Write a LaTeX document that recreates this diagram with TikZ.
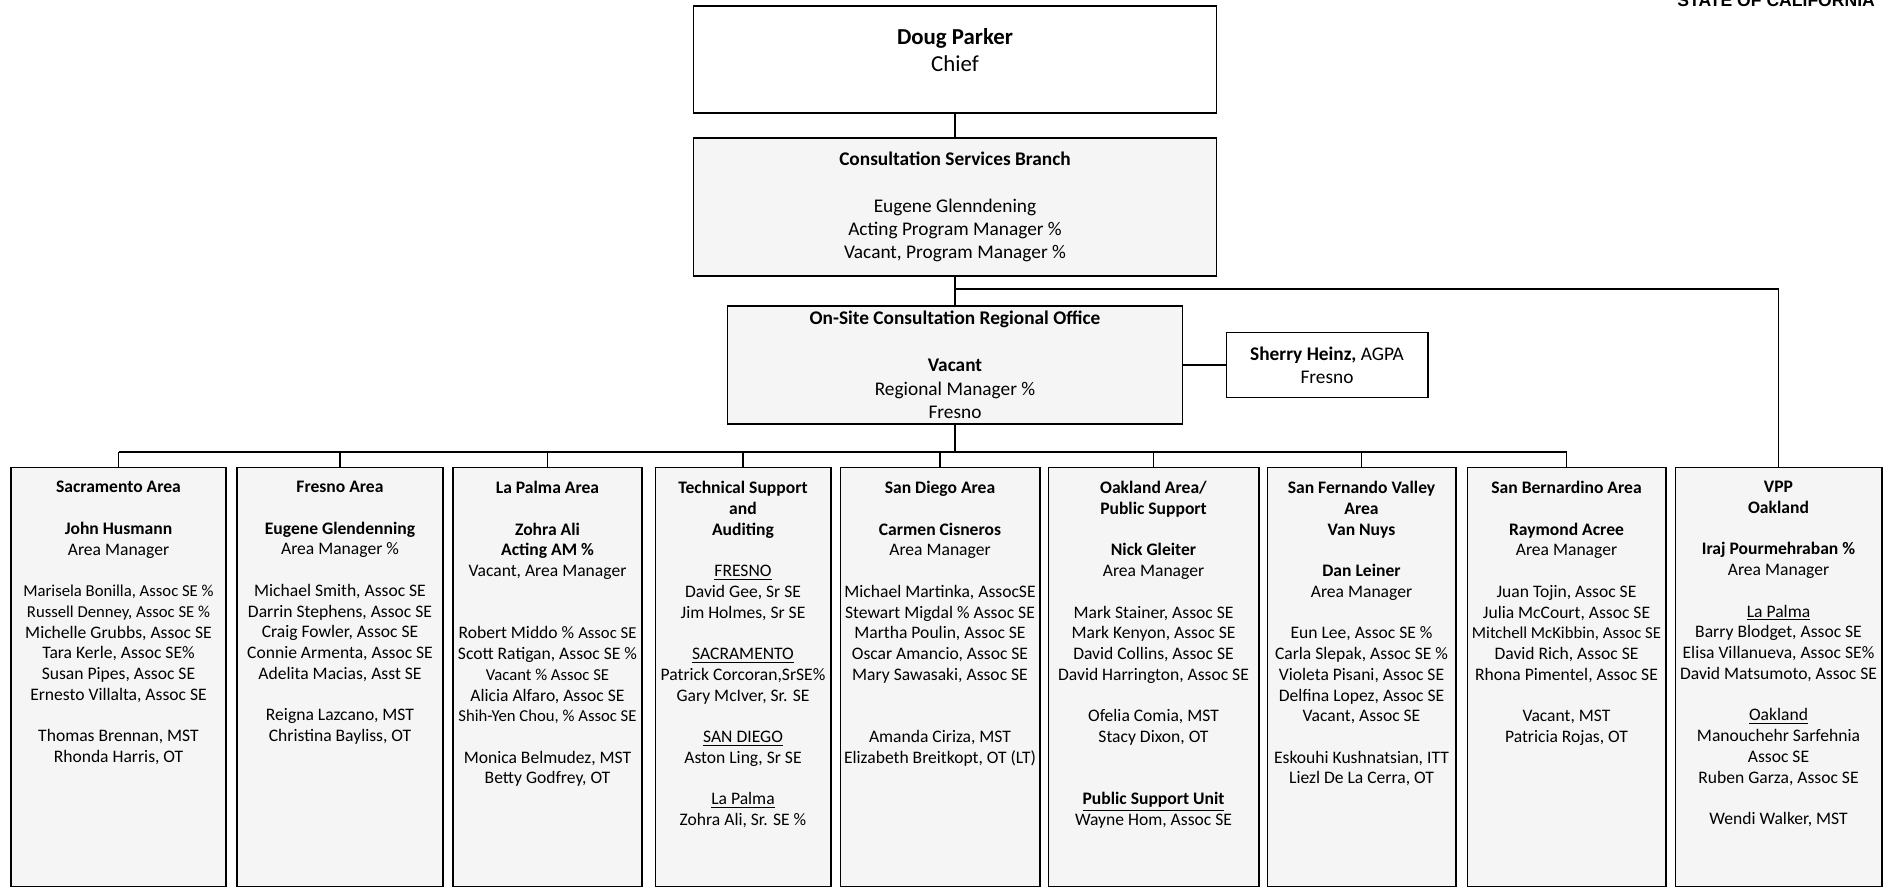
\documentclass[tikz,border=0pt]{standalone}
\usepackage{fontspec}
\setmainfont{Carlito}
\newfontfamily\statefont{Liberation Sans}
\usetikzlibrary{positioning}
\newcommand{\gapline}{\\[\baselineskip]}
\newcommand{\gaptwo}{\\[2\baselineskip]}
\newcommand{\tight}[1]{{\fontsize{9.5}{11.8}\selectfont #1}}

\begin{document}
\begin{tikzpicture}[x=0.02cm, y=-0.02cm,
  frame/.style={draw, line width=0.6pt, inner sep=0pt},
  areabox/.style={frame, fill=black!4, minimum height=8.4cm},
  areatext/.style={anchor=north, inner sep=0pt, align=center, font=\fontsize{10}{11.8}\selectfont},
  toptext/.style={inner sep=0pt, align=center, font=\fontsize{11}{13.3}\selectfont},
  link/.style={line width=0.9pt}]
\useasboundingbox (0,0) rectangle (1892,891);

\node[anchor=base west, inner sep=0pt, font=\statefont\bfseries\fontsize{10}{12}\selectfont] (state) at (1677,7) {STATE OF CALIFORNIA};

\node[frame, fill=white, minimum width=10.48cm, minimum height=2.14cm] (chief) at (955,59.5) {};
\node[inner sep=0pt, align=center, font=\fontsize{13}{15.5}\selectfont] (chieftext) at (955,50) {\textbf{Doug Parker}\\Chief};

\node[frame, fill=black!4, minimum width=10.48cm, minimum height=2.76cm] (branch) at (955,207) {};
\node[toptext] (branchtext) at (branch) {\textbf{Consultation Services Branch}\gapline Eugene Glenndening\\Acting Program Manager \%\\Vacant, Program Manager \%};

\node[frame, fill=black!4, minimum width=9.10cm, minimum height=2.36cm] (onsite) at (955,365) {};
\node[toptext] (onsitetext) at (onsite) {\textbf{On-Site Consultation Regional Office}\gapline\textbf{Vacant}\\Regional Manager \%\\Fresno};

\node[frame, fill=white, minimum width=4.04cm, minimum height=1.30cm] (sherry) at (1327,365) {};
\node[toptext] (sherrytext) at (sherry) {\textbf{Sherry Heinz,} AGPA\\Fresno};

\coordinate (topbus) at (955,289);
\coordinate (bus) at (955,452);

\foreach \name/\cx/\w in {sac/118.5/4.30, fresno/340/4.12, lapalma/547.5/3.78, tech/743/3.52, sandiego/940/4.00, oakland/1153.5/4.22, sfv/1361.5/3.78, sanbern/1566.5/3.98, vpp/1778.5/4.14}
  \node[areabox, minimum width=\w cm] (\name) at (\cx,677) {};

\node[areatext, below=0.29cm of sac.north] (sactext) {\textbf{Sacramento Area}\gapline
  \textbf{John Husmann}\\Area Manager\gapline
  \tight{Marisela Bonilla, Assoc SE \%}\\\tight{Russell Denney, Assoc SE \%}\\Michelle Grubbs, Assoc SE\\Tara Kerle, Assoc SE\%\\Susan Pipes, Assoc SE\\Ernesto Villalta, Assoc SE\gapline
  Thomas Brennan, MST\\Rhonda Harris, OT};

\node[areatext, below=0.29cm of fresno.north] (fresnotext) {\textbf{Fresno Area}\gapline
  \textbf{Eugene Glendenning}\\Area Manager \%\gapline
  Michael Smith, Assoc SE\\Darrin Stephens, Assoc SE\\Craig Fowler, Assoc SE\\Connie Armenta, Assoc SE\\Adelita Macias, Asst SE\gapline
  Reigna Lazcano, MST\\Christina Bayliss, OT};

\node[areatext, below=0.29cm of lapalma.north] (lapalmatext) {\textbf{La Palma Area}\gapline
  \textbf{Zohra Ali}\\\textbf{Acting AM \%}\\Vacant, Area Manager\gaptwo
  Robert Middo \% \tight{Assoc SE}\\Scott Ratigan, Assoc SE \%\\\tight{Vacant \% Assoc SE}\\Alicia Alfaro, Assoc SE\\\tight{Shih-Yen Chou, \%  Assoc SE}\gapline
  Monica Belmudez, MST\\Betty Godfrey, OT};

\node[areatext, below=0.29cm of tech.north] (techtext) {\textbf{Technical Support}\\\textbf{and}\\\textbf{Auditing}\gapline
  \underline{FRESNO}\\David Gee, Sr SE\\Jim Holmes, Sr SE\gapline
  \underline{SACRAMENTO}\\Patrick Corcoran,SrSE\%\\Gary McIver, Sr. SE\gapline
  \underline{SAN DIEGO}\\Aston Ling, Sr SE\gapline
  \underline{La Palma}\\Zohra Ali, Sr. SE \%};

\node[areatext, below=0.29cm of sandiego.north] (sandiegotext) {\textbf{San Diego Area}\gapline
  \textbf{Carmen Cisneros}\\Area Manager\gapline
  Michael Martinka, AssocSE\\Stewart Migdal \% Assoc SE\\Martha Poulin, Assoc SE\\Oscar Amancio, Assoc SE\\Mary Sawasaki, Assoc SE\gaptwo
  Amanda Ciriza, MST\\Elizabeth Breitkopt, OT (LT)};

\node[areatext, below=0.29cm of oakland.north] (oaklandtext) {\textbf{Oakland Area/}\\\textbf{Public Support}\gapline
  \textbf{Nick Gleiter}\\Area Manager\gapline
  Mark Stainer, Assoc SE\\Mark Kenyon, Assoc SE\\David Collins, Assoc SE\\David Harrington, Assoc SE\gapline
  Ofelia Comia, MST\\Stacy Dixon, OT\gaptwo
  \textbf{\underline{Public Support Unit}}\\Wayne Hom, Assoc SE};

\node[areatext, below=0.29cm of sfv.north] (sfvtext) {\textbf{San Fernando Valley}\\\textbf{Area}\\\textbf{Van Nuys}\gapline
  \textbf{Dan Leiner}\\Area Manager\gapline
  Eun Lee, Assoc SE \%\\Carla Slepak, Assoc SE \%\\Violeta Pisani, Assoc SE\\Delfina Lopez, Assoc SE\\Vacant, Assoc SE\gapline
  Eskouhi Kushnatsian, ITT\\Liezl De La Cerra, OT};

\node[areatext, below=0.29cm of sanbern.north] (sanberntext) {\textbf{San Bernardino Area}\gapline
  \textbf{Raymond Acree}\\Area Manager\gapline
  Juan Tojin, Assoc SE\\Julia McCourt, Assoc SE\\\tight{Mitchell McKibbin, Assoc SE}\\David Rich, Assoc SE\\Rhona Pimentel, Assoc SE\gapline
  Vacant,  MST\\Patricia Rojas, OT};

\node[areatext, below=0.29cm of vpp.north] (vpptext) {\textbf{VPP}\\\textbf{Oakland}\gapline
  \textbf{Iraj Pourmehraban \%}\\Area Manager\gapline
  \underline{La Palma}\\Barry Blodget, Assoc SE\\Elisa Villanueva, Assoc SE\%\\David Matsumoto, Assoc SE\gapline
  \underline{Oakland}\\Manouchehr Sarfehnia\\Assoc SE\\Ruben Garza, Assoc SE\gapline
  Wendi Walker, MST};

\draw[link] (chief) -- (branch);
\draw[link] (branch) -- (onsite);
\draw[link] (topbus) -| (vpp);
\draw[link] (onsite) -- (sherry);
\draw[link] (onsite) -- (bus);
\draw[link] (bus -| sac.north) -- (bus -| sanbern.north);
\foreach \name in {sac,fresno,lapalma,tech,sandiego,oakland,sfv,sanbern}
  \draw[link] (\name) -- (\name.north |- bus);
\end{tikzpicture}
\end{document}
